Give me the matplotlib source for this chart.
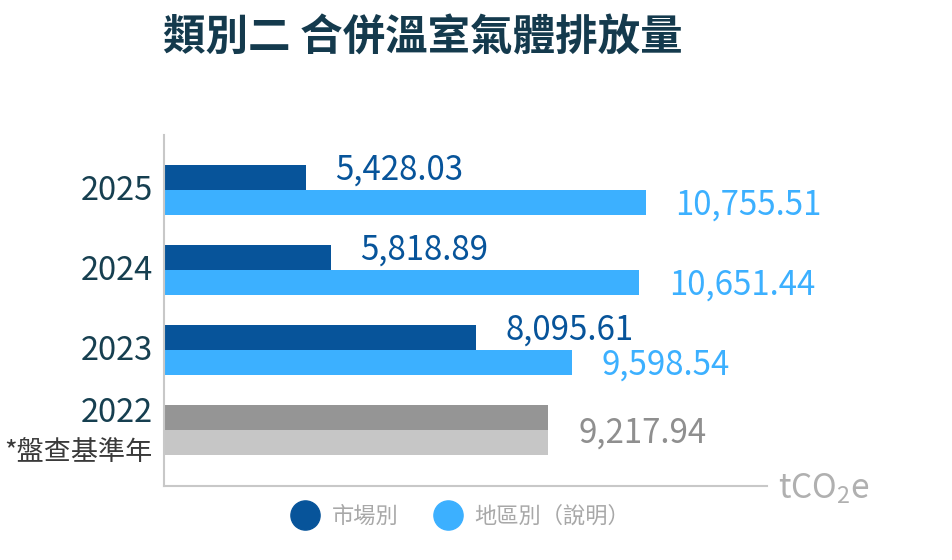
import matplotlib.pyplot as plt
from matplotlib.lines import Line2D
import matplotlib.transforms as mtransforms

plt.rcParams['font.family'] = ['Noto Sans CJK TC', 'DejaVu Sans']
plt.rcParams['mathtext.fontset'] = 'custom'
plt.rcParams['mathtext.rm'] = 'Noto Sans CJK TC'
plt.rcParams['mathtext.it'] = 'Noto Sans CJK TC'

years = ["2025", "2024", "2023", "2022"]
market = [5428.03, 5818.89, 8095.61]
location = [10755.51, 10651.44, 9598.54]
base_year_value = 9217.94

title = "類別二 合併溫室氣體排放量"
base_note = "*盤查基準年"
legend_labels = ["市場別", "地區別（說明）"]
unit = r"tCO$\mathregular{_2}$e"

c_dark = "#07549a"
c_light = "#3cb0ff"
c_gray_dark = "#959595"
c_gray_light = "#c6c6c6"
c_label_gray = "#8f8f8f"
c_year = "#163f50"
c_spine = "#c8c8c8"

fig = plt.figure(figsize=(9.52, 5.6), dpi=100)
ax = fig.add_axes([164/952, 1-486/560, (767-164)/952, (486-135)/560])

h = 0.3125
fs_val = 23.8

for i in range(len(market)):
    ax.barh(i - h/2, market[i], height=h, color=c_dark, zorder=2)
    ax.barh(i + h/2, location[i], height=h, color=c_light, zorder=2)
    ax.annotate(f"{market[i]:,.2f}", xy=(market[i], i - h/2), xytext=(21, 5),
                textcoords="offset points", ha="left", va="center",
                fontsize=fs_val, color=c_dark)
    ax.annotate(f"{location[i]:,.2f}", xy=(location[i], i + h/2), xytext=(21, -2),
                textcoords="offset points", ha="left", va="center",
                fontsize=fs_val, color=c_light)

j = 3
ax.barh(j - h/2, base_year_value, height=h, color=c_gray_dark, zorder=2)
ax.barh(j + h/2, base_year_value, height=h, color=c_gray_light, zorder=2)
ax.annotate(f"{base_year_value:,.2f}", xy=(base_year_value, j), xytext=(22, -2),
            textcoords="offset points", ha="left", va="center",
            fontsize=fs_val, color=c_label_gray)

# year labels on the left
trans = mtransforms.blended_transform_factory(ax.transAxes, ax.transData)
for i, y in enumerate(years[:3]):
    ax.annotate(y, xy=(0, i), xycoords=trans, xytext=(-8, -1),
                textcoords="offset points", ha="right", va="center",
                fontsize=23.5, color=c_year)
ax.annotate(years[3], xy=(0, j), xycoords=trans, xytext=(-8, 12),
            textcoords="offset points", ha="right", va="center",
            fontsize=23.5, color=c_year)
ax.annotate(base_note, xy=(0, j), xycoords=trans, xytext=(-8, -16),
            textcoords="offset points", ha="right", va="center",
            fontsize=19.5, color="#3a3a3a")

ax.set_xlim(3200, 12650)
ax.set_ylim(3.7, -0.6875)
ax.set_xticks([])
ax.set_yticks([])
for s in ["top", "right"]:
    ax.spines[s].set_visible(False)
for s in ["left", "bottom"]:
    ax.spines[s].set_color(c_spine)
    ax.spines[s].set_linewidth(1.5)

ax.annotate(unit, xy=(1, 0), xycoords="axes fraction", xytext=(8, -2),
            textcoords="offset points", ha="left", va="center",
            fontsize=24, color="#b0b0b0")

fig.text(163/952, 1-38/560, title, ha="left", va="center",
         fontsize=30.6, fontweight="bold", color="#143a4d")

handles = [Line2D([], [], ls="none", marker="o", markersize=21, color=c_dark),
           Line2D([], [], ls="none", marker="o", markersize=21, color=c_light)]
leg = fig.legend(handles, legend_labels, ncol=2, loc="center",
                 bbox_to_anchor=(460/952, 1-516/560), frameon=False,
                 fontsize=16, handlelength=1.4, handletextpad=0.5,
                 columnspacing=1.5)
for t in leg.get_texts():
    t.set_color("#a8a8a8")

fig.savefig("out.png", dpi=100)
